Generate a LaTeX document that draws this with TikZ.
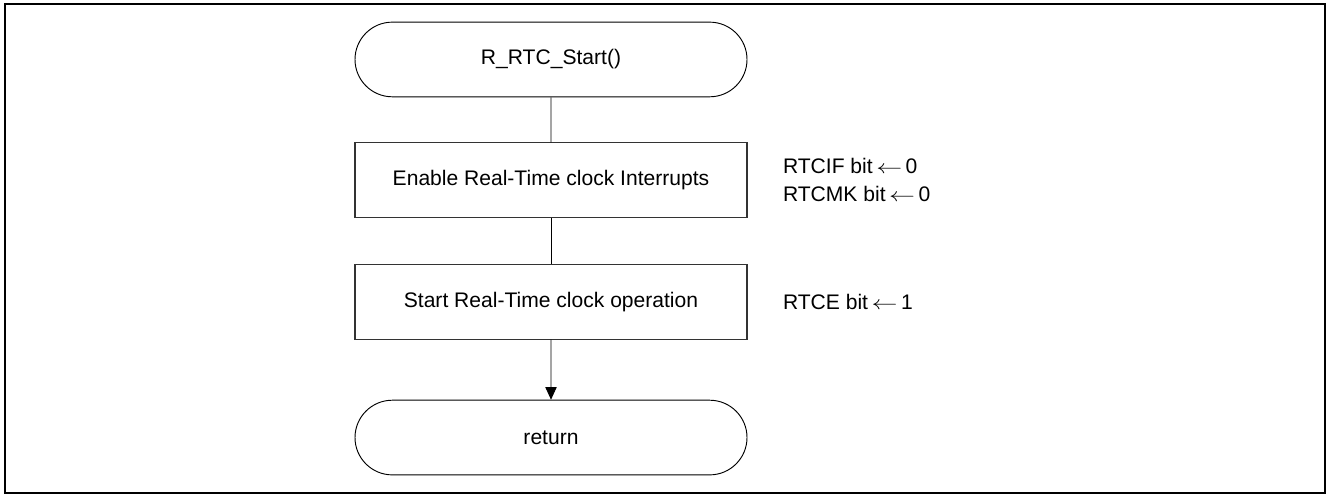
\documentclass[tikz,border=0pt]{standalone}
\usepackage{fontspec}
\setmainfont{Liberation Sans}
\usepackage{tikz}
\usetikzlibrary{positioning}
\usetikzlibrary{shapes.misc}
\usetikzlibrary{arrows.meta}
\newcommand{\setbit}{\,\scalebox{1.35}[1]{$\leftarrow$}\,}
\tikzset{%
  myedge/.style={-{Triangle[length=9.5pt,width=8.5pt]}},
  myterm/.style={rounded rectangle, draw=black, line width=0.7pt, minimum width=294pt, minimum height=56pt, inner sep=0pt},
  mybox/.style={rectangle, draw=black!80, line width=0.8pt, minimum width=294pt, minimum height=56pt, inner sep=0pt},
  mynote/.style={anchor=west, inner sep=0pt, align=left}
}

\begin{document}
\begin{tikzpicture}[font=\fontsize{15.8}{21}\selectfont, line width=0.7pt]
  \useasboundingbox (0pt,0pt) rectangle (994.5pt,-370.5pt);
  \draw [line width=1.6pt] (3.75pt,-3pt) rectangle (993.75pt,-369.75pt);
  \node[myterm] (start) at (413.25pt,-44.6pt) {R\_RTC\_Start()};
  \node[mybox, below=33.75pt of start] (intr) {Enable Real-Time clock Interrupts};
  \node[mybox, below=34.5pt of intr] (oper) {Start Real-Time clock operation};
  \node[myterm, below=45pt of oper] (ret) {return};
  \draw [] (start) -- (intr);
  \draw [] (intr) -- (oper);
  \draw [myedge] (oper) -- (ret);
  \node[mynote, right=26.25pt of intr] (intrnote) {RTCIF bit\setbit 0\\RTCMK bit\setbit 0};
  \node[mynote, right=26.25pt of oper] (opernote) {RTCE bit\setbit 1};
\end{tikzpicture}
\end{document}
